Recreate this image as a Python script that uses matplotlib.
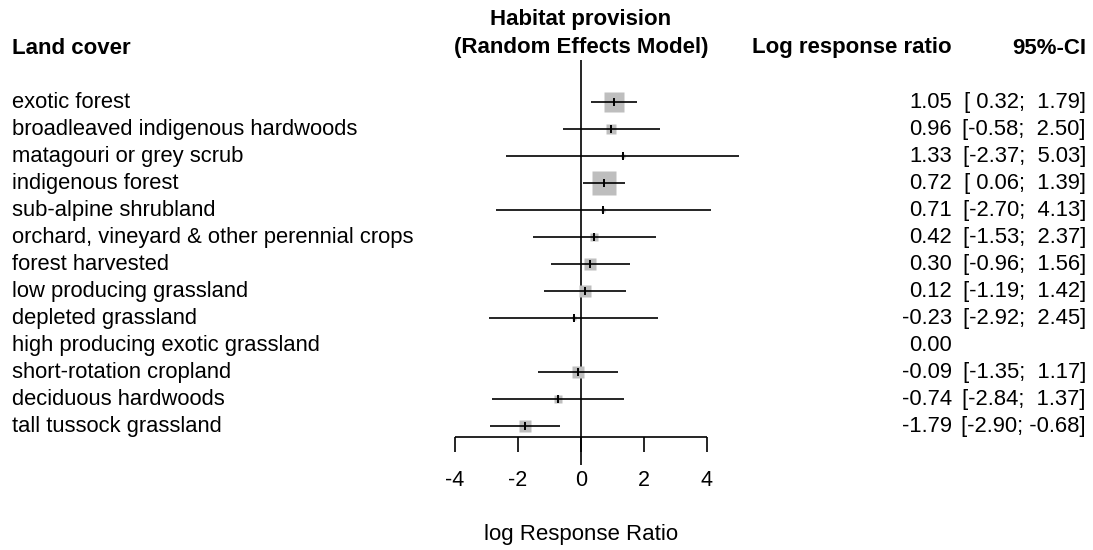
import matplotlib
matplotlib.use("Agg")
import matplotlib.pyplot as plt
from matplotlib.transforms import blended_transform_factory
import numpy as np

plt.rcParams['font.family'] = ['Liberation Sans', 'DejaVu Sans']

# Land cover classes (top to bottom)
land_cover = [
    "exotic forest",
    "broadleaved indigenous hardwoods",
    "matagouri or grey scrub",
    "indigenous forest",
    "sub-alpine shrubland",
    "orchard, vineyard & other perennial crops",
    "forest harvested",
    "low producing grassland",
    "depleted grassland",
    "high producing exotic grassland",
    "short-rotation cropland",
    "deciduous hardwoods",
    "tall tussock grassland",
]
# Log response ratio and 95% confidence limits (NaN for the reference class)
lrr = [1.05, 0.96, 1.33, 0.72, 0.71, 0.42, 0.30, 0.12, -0.23, 0.00, -0.09, -0.74, -1.79]
ci_low = [0.32, -0.58, -2.37, 0.06, -2.70, -1.53, -0.96, -1.19, -2.92, np.nan, -1.35, -2.84, -2.90]
ci_high = [1.79, 2.50, 5.03, 1.39, 4.13, 2.37, 1.56, 1.42, 2.45, np.nan, 1.17, 1.37, -0.68]
# Random-effects weights (%) setting box areas
weights = [20.6, 6.2, 0.5, 29.7, 0.8, 3.3, 8.7, 8.7, 0.8, 0.0, 8.7, 3.3, 8.7]
x_ticks = [-4, -2, 0, 2, 4]

W, H = 1093, 550
fig = plt.figure(figsize=(W / 100, H / 100), dpi=100)
ax = fig.add_axes([0, 0, 1, 1])
ax.axis('off')

# Scale: zero at x pixel 581, 31.5 px per unit; rows 27 px apart starting at 102 px
x0, ux = 581.0, 31.5
y0, uy = 102.0, 27.0
ax.set_xlim(-x0 / ux, (W - x0) / ux)
ax.set_ylim((H - y0) / uy, -y0 / uy)

rows = np.arange(len(land_cover))
axis_y = rows[-1] + 0.41

# Line of no effect
ax.plot([0, 0], [-1.57, axis_y + 1.04], color='black', lw=1.2, solid_capstyle='butt')

for i in rows:
    if not np.isnan(ci_low[i]):
        if weights[i] > 0:
            ax.plot(lrr[i], i, marker='s', ms=3.17 * np.sqrt(weights[i]),
                    color='#bebebe', mec='none', zorder=2)
        ax.plot([ci_low[i], ci_high[i]], [i, i], color='black', lw=1.2,
                solid_capstyle='butt', zorder=3)
        ax.plot(lrr[i], i, marker='|', ms=6, mew=1.4, color='black', zorder=4)

# x axis
ax.plot([x_ticks[0], x_ticks[-1]], [axis_y, axis_y], color='black', lw=1.2,
        solid_capstyle='butt')
for t in x_ticks:
    ax.plot([t, t], [axis_y, axis_y + 0.55], color='black', lw=1.2,
            solid_capstyle='butt')
    ax.text(t, axis_y + 1.62, f"{t:g}", ha='center', va='center', fontsize=15.5)
ax.text(0, axis_y + 3.6, "log Response Ratio", ha='center', va='center', fontsize=16)

# Text columns
tr = blended_transform_factory(fig.transFigure, ax.transData)
fs = 15.8
for i in rows:
    ax.text(12 / W, i, land_cover[i], transform=tr, ha='left', va='center', fontsize=fs)
    ax.text(952 / W, i, f"{lrr[i]:.2f}", transform=tr, ha='right', va='center', fontsize=fs)
    if not np.isnan(ci_low[i]):
        ci_txt = f"[{ci_low[i]:5.2f}; {ci_high[i]:5.2f}]"
        ax.text(1086 / W, i, ci_txt, transform=tr, ha='right', va='center', fontsize=fs)

# Headers
hfs = 16
hy = 48 / H
fig.text(12 / W, 1 - hy, "Land cover", ha='left', va='center', fontsize=hfs, fontweight='bold')
fig.text(581 / W, 1 - 20 / H, "Habitat provision", ha='center', va='center', fontsize=hfs,
         fontweight='bold')
fig.text(581 / W, 1 - hy, "(Random Effects Model)", ha='center', va='center', fontsize=hfs,
         fontweight='bold')
fig.text(952 / W, 1 - hy, "Log response ratio", ha='right', va='center', fontsize=hfs,
         fontweight='bold')
fig.text(1086 / W, 1 - hy, "95%-CI", ha='right', va='center', fontsize=hfs, fontweight='bold')

fig.savefig("out.png", dpi=100)
